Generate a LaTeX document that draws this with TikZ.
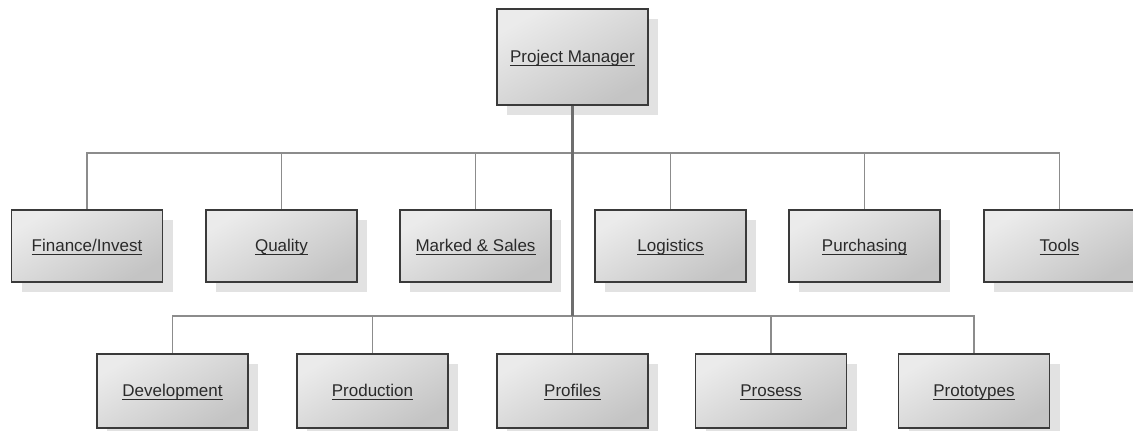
\documentclass[tikz,border=0pt]{standalone}
\usepackage{fontspec}
\setmainfont{Liberation Sans}
\usetikzlibrary{shadows}
\definecolor{boxline}{HTML}{3A3A3A}
\definecolor{branch}{HTML}{8C8C8C}
\definecolor{trunkc}{HTML}{6E6E6E}
\definecolor{shade1}{HTML}{EBEBEB}
\definecolor{shade2}{HTML}{C4C4C4}
\definecolor{shadowc}{HTML}{E2E2E2}
\definecolor{txt}{HTML}{2A2A2A}
\newcommand\myul[1]{\setbox0\hbox{#1}\leavevmode\rlap{\rule[-3.3pt]{\wd0}{1.3pt}}\box0}
\tikzset{
  orgbox/.style={draw=boxline, line width=1.5pt, rectangle, inner sep=0pt,
    minimum width=151pt, minimum height=72pt, text height=13pt, text depth=2pt,
    top color=shade1, bottom color=shade2, shading angle=30,
    drop shadow={shadow xshift=10pt, shadow yshift=-10pt, fill=shadowc, opacity=1},
    font=\fontsize{17}{20}\selectfont, text=txt},
  lowbox/.style={orgbox, minimum height=74pt},
  topbox/.style={orgbox, minimum height=96pt},
  branchline/.style={draw=branch, line width=1.7pt},
  trunkline/.style={draw=trunkc, line width=2.6pt}
}
\begin{document}
\begin{tikzpicture}[x=1pt,y=-1pt]
\useasboundingbox[fill=white] (0,0) rectangle (1133,431);
% top
\node[topbox] (pm) at (572.5,57) {\myul{Project Manager}};
% row 1
\node[orgbox] (fin) at (87,246) {\myul{Finance/Invest}};
\node[orgbox] (qua) at (281.5,246) {\myul{Quality}};
\node[orgbox] (mar) at (475.5,246) {\myul{Marked \& Sales}};
\node[orgbox] (log) at (670.5,246) {\myul{Logistics}};
\node[orgbox] (pur) at (864.5,246) {\myul{Purchasing}};
\node[orgbox] (too) at (1059.5,246) {\myul{Tools}};
% row 2
\node[lowbox] (dev) at (172.5,391) {\myul{Development}};
\node[lowbox] (pro) at (372.5,391) {\myul{Production}};
\node[lowbox] (prf) at (572.5,391) {\myul{Profiles}};
\node[lowbox] (prs) at (771,391) {\myul{Prosess}};
\node[lowbox] (prt) at (974,391) {\myul{Prototypes}};
% buses
\coordinate (bus1) at (572.5,153);
\coordinate (bus2) at (572.5,316);
\foreach \n in {fin,qua,mar,log,pur,too}{
  \draw[branchline] (bus1) -| (\n.north);
}
\foreach \n in {dev,pro,prf,prs,prt}{
  \draw[branchline] (bus2) -| (\n.north);
}
\draw[trunkline] (pm.south) -- (bus2);
\end{tikzpicture}
\end{document}
